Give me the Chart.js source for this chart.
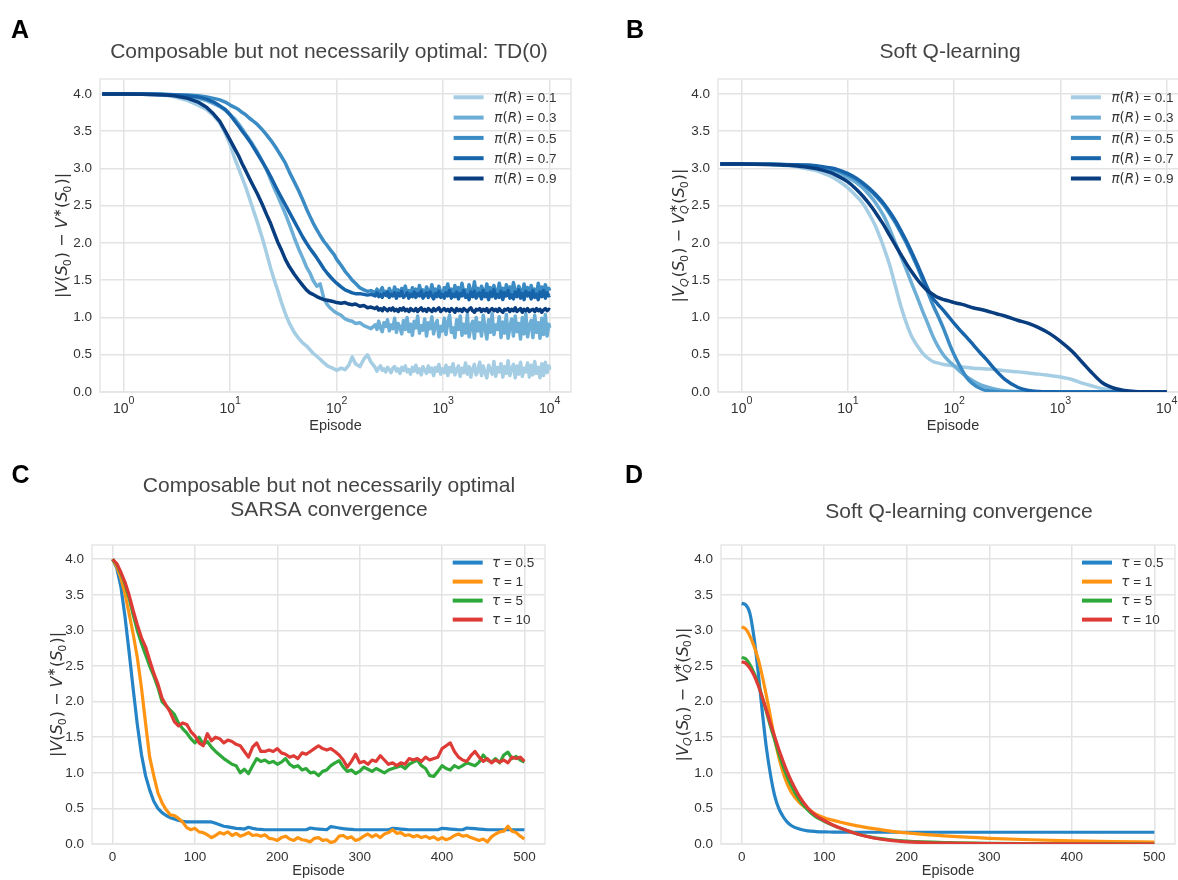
<!DOCTYPE html>
<html>
<head>
<meta charset="utf-8">
<script src="https://cdn.jsdelivr.net/npm/chart.js@4.4.1/dist/chart.umd.min.js"></script>
<style>
  html, body { margin: 0; padding: 0; background: #fff; }
  body { width: 1178px; height: 880px; overflow: hidden; position: relative; }
  canvas { position: absolute; }
</style>
</head>
<body>
<canvas id="chartA" width="590" height="440" style="left:0;top:0"></canvas>
<canvas id="chartB" width="620" height="440" style="left:590px;top:0"></canvas>
<canvas id="chartC" width="590" height="440" style="left:0;top:440px"></canvas>
<canvas id="chartD" width="590" height="440" style="left:590px;top:440px"></canvas>
<script>
// ---------- data ----------
const yTicks = [0, 0.5, 1, 1.5, 2, 2.5, 3, 3.5, 4];
const xTicksLog = [1, 10, 100, 1000, 10000];
const xTicksLin = [0, 100, 200, 300, 400, 500];

const piLabels = ['0.1', '0.3', '0.5', '0.7', '0.9'];
const tauLabels = ['0.5', '1', '5', '10'];

// A: TD(0), log episodes
const epA = [0.63, 1, 1.5, 2, 2.5, 3, 4, 5, 6, 7, 8, 9, 10, 11, 12, 13, 14, 15, 16, 18,
  20, 22, 24, 26, 28, 30, 33, 36, 40, 44, 48, 52, 56, 60, 65, 70, 76, 82, 88, 95,
  100, 110, 120, 130, 140, 150, 165, 180, 195, 210,
  230, 239, 248, 258, 268, 278, 289, 300, 312, 324, 337, 350, 364, 378, 393, 408, 424, 441, 458, 476,
  494, 514, 534, 554, 576, 599, 622, 646, 671, 698, 725, 753, 783, 813, 845, 878, 912, 948, 985, 1023,
  1063, 1105, 1148, 1193, 1240, 1288, 1338, 1391, 1445, 1501, 1560, 1621, 1685, 1750, 1819, 1890, 1964, 2040, 2120, 2203,
  2289, 2379, 2472, 2568, 2669, 2773, 2881, 2994, 3111, 3233, 3359, 3490, 3627, 3768, 3916, 4069, 4228, 4393, 4565, 4743,
  4929, 5121, 5322, 5530, 5746, 5970, 6204, 6446, 6698, 6960, 7232, 7515, 7809, 8114, 8431, 8761, 9103, 9459, 9829, 10000];

const tdR01 = [4.00, 4.00, 3.995, 3.99, 3.98, 3.96, 3.91, 3.85, 3.79, 3.71, 3.61, 3.47, 3.32, 3.14, 3.00, 2.87, 2.75, 2.62, 2.50, 2.28,
  2.07, 1.86, 1.66, 1.50, 1.36, 1.22, 1.05, 0.92, 0.80, 0.72, 0.66, 0.62, 0.57, 0.52, 0.48, 0.44, 0.39, 0.35, 0.33, 0.31,
  0.29, 0.32, 0.30, 0.36, 0.47, 0.38, 0.34, 0.44, 0.50, 0.40,
  0.33, 0.28, 0.32, 0.35, 0.29, 0.31, 0.27, 0.33, 0.30, 0.26, 0.32, 0.34, 0.28, 0.31, 0.25, 0.33, 0.29, 0.35, 0.27, 0.30,
  0.24, 0.33, 0.28, 0.36, 0.26, 0.31, 0.23, 0.34, 0.29, 0.25, 0.35, 0.27, 0.32, 0.22, 0.33, 0.28, 0.37, 0.24, 0.31, 0.26,
  0.36, 0.22, 0.33, 0.27, 0.38, 0.23, 0.30, 0.35, 0.21, 0.32, 0.26, 0.39, 0.24, 0.34, 0.20, 0.31, 0.37, 0.23, 0.28, 0.40,
  0.22, 0.35, 0.26, 0.19, 0.36, 0.30, 0.24, 0.41, 0.21, 0.33, 0.27, 0.38, 0.20, 0.34, 0.25, 0.42, 0.22, 0.31, 0.37, 0.19,
  0.35, 0.24, 0.40, 0.21, 0.32, 0.27, 0.39, 0.20, 0.36, 0.23, 0.41, 0.25, 0.33, 0.19, 0.38, 0.22, 0.40, 0.26, 0.35, 0.30];
const tdR03 = [4.00, 4.00, 4.00, 3.995, 3.99, 3.985, 3.97, 3.94, 3.91, 3.87, 3.83, 3.78, 3.72, 3.67, 3.60, 3.53, 3.46, 3.40, 3.34, 3.22,
  3.10, 2.98, 2.85, 2.73, 2.63, 2.53, 2.39, 2.25, 2.07, 1.92, 1.80, 1.68, 1.60, 1.50, 1.42, 1.45, 1.25, 1.17, 1.12, 1.08,
  1.06, 1.03, 0.98, 0.96, 0.95, 0.92, 0.93, 0.89, 0.87, 0.85,
  0.90, 0.84, 0.95, 0.86, 0.81, 0.93, 0.88, 0.97, 0.82, 0.90, 0.85, 0.99, 0.80, 0.92, 0.87, 0.78, 0.96, 0.84, 1.00, 0.81,
  0.91, 0.76, 0.95, 0.86, 1.02, 0.79, 0.89, 0.83, 0.98, 0.75, 0.93, 0.85, 1.01, 0.78, 0.90, 0.96, 0.74, 0.88, 0.82, 0.99,
  0.77, 0.94, 1.03, 0.80, 0.86, 0.73, 0.97, 0.84, 1.02, 0.76, 0.91, 0.79, 1.04, 0.74, 0.88, 0.95, 0.72, 1.00, 0.82, 0.93,
  0.75, 1.03, 0.86, 0.71, 0.97, 0.80, 1.05, 0.77, 0.90, 0.84, 1.01, 0.73, 0.94, 0.79, 1.04, 0.72, 0.87, 0.98, 0.75, 1.02,
  0.81, 0.92, 0.71, 1.00, 0.78, 1.05, 0.74, 0.89, 0.96, 0.73, 1.03, 0.80, 0.93, 0.72, 0.99, 0.77, 1.04, 0.75, 0.91, 0.86];
const tdR05 = [4.00, 4.00, 4.00, 4.00, 3.995, 3.99, 3.985, 3.975, 3.96, 3.94, 3.92, 3.89, 3.85, 3.82, 3.79, 3.75, 3.72, 3.68, 3.65, 3.59,
  3.52, 3.45, 3.38, 3.31, 3.24, 3.17, 3.07, 2.95, 2.82, 2.70, 2.58, 2.46, 2.36, 2.27, 2.18, 2.10, 2.02, 1.96, 1.90, 1.84,
  1.78, 1.70, 1.62, 1.56, 1.50, 1.46, 1.40, 1.37, 1.35, 1.36,
  1.33, 1.38, 1.31, 1.36, 1.40, 1.32, 1.35, 1.29, 1.39, 1.34, 1.31, 1.41, 1.33, 1.37, 1.30, 1.39, 1.35, 1.42, 1.31, 1.36,
  1.29, 1.40, 1.34, 1.38, 1.30, 1.43, 1.33, 1.37, 1.29, 1.41, 1.35, 1.31, 1.44, 1.33, 1.38, 1.30, 1.42, 1.34, 1.29, 1.40,
  1.36, 1.45, 1.31, 1.38, 1.29, 1.43, 1.34, 1.40, 1.30, 1.46, 1.33, 1.37, 1.29, 1.44, 1.35, 1.31, 1.48, 1.33, 1.39, 1.29,
  1.42, 1.36, 1.30, 1.45, 1.33, 1.40, 1.28, 1.43, 1.35, 1.31, 1.46, 1.34, 1.39, 1.29, 1.44, 1.32, 1.41, 1.30, 1.47, 1.35,
  1.31, 1.42, 1.36, 1.29, 1.45, 1.33, 1.40, 1.30, 1.43, 1.34, 1.38, 1.29, 1.46, 1.33, 1.41, 1.31, 1.44, 1.35, 1.39, 1.36];
const tdR07 = [4.00, 4.00, 4.00, 3.995, 3.99, 3.985, 3.975, 3.96, 3.93, 3.89, 3.84, 3.79, 3.72, 3.64, 3.57, 3.50, 3.44, 3.38, 3.32, 3.20,
  3.09, 2.99, 2.89, 2.79, 2.70, 2.62, 2.51, 2.41, 2.29, 2.18, 2.08, 2.00, 1.93, 1.87, 1.80, 1.73, 1.65, 1.59, 1.54, 1.49,
  1.46, 1.41, 1.37, 1.35, 1.33, 1.32, 1.32, 1.31, 1.30, 1.31,
  1.29, 1.33, 1.28, 1.31, 1.27, 1.32, 1.30, 1.34, 1.27, 1.31, 1.29, 1.33, 1.26, 1.32, 1.29, 1.35, 1.27, 1.30, 1.33, 1.26,
  1.31, 1.28, 1.34, 1.27, 1.32, 1.29, 1.35, 1.26, 1.30, 1.33, 1.27, 1.34, 1.29, 1.25, 1.32, 1.28, 1.35, 1.27, 1.31, 1.26,
  1.33, 1.29, 1.36, 1.26, 1.31, 1.28, 1.34, 1.25, 1.32, 1.29, 1.36, 1.27, 1.30, 1.24, 1.34, 1.28, 1.35, 1.26, 1.31, 1.33,
  1.25, 1.36, 1.28, 1.32, 1.24, 1.34, 1.29, 1.37, 1.26, 1.31, 1.27, 1.35, 1.24, 1.33, 1.29, 1.36, 1.26, 1.30, 1.25, 1.34,
  1.28, 1.37, 1.26, 1.32, 1.24, 1.35, 1.29, 1.33, 1.25, 1.36, 1.27, 1.31, 1.24, 1.34, 1.28, 1.36, 1.26, 1.33, 1.29, 1.30];
const tdR09 = [4.00, 4.00, 3.995, 3.99, 3.985, 3.975, 3.94, 3.89, 3.82, 3.73, 3.63, 3.50, 3.38, 3.27, 3.17, 3.06, 2.97, 2.88, 2.80, 2.66,
  2.52, 2.38, 2.26, 2.13, 2.01, 1.92, 1.78, 1.68, 1.58, 1.50, 1.43, 1.37, 1.33, 1.31, 1.28, 1.26, 1.24, 1.23, 1.22, 1.21,
  1.20, 1.19, 1.20, 1.18, 1.17, 1.18, 1.15, 1.16, 1.13, 1.14,
  1.12, 1.14, 1.10, 1.12, 1.09, 1.13, 1.11, 1.09, 1.12, 1.10, 1.13, 1.09, 1.11, 1.08, 1.12, 1.10, 1.13, 1.09, 1.11, 1.08,
  1.12, 1.10, 1.09, 1.12, 1.08, 1.11, 1.13, 1.09, 1.11, 1.08, 1.12, 1.10, 1.08, 1.12, 1.09, 1.11, 1.13, 1.08, 1.10, 1.12,
  1.09, 1.11, 1.08, 1.12, 1.10, 1.07, 1.12, 1.09, 1.11, 1.08, 1.12, 1.10, 1.08, 1.11, 1.13, 1.09, 1.07, 1.11, 1.10, 1.12,
  1.08, 1.11, 1.09, 1.12, 1.07, 1.10, 1.12, 1.09, 1.11, 1.08, 1.12, 1.09, 1.07, 1.11, 1.10, 1.12, 1.08, 1.11, 1.09, 1.13,
  1.08, 1.10, 1.12, 1.07, 1.11, 1.09, 1.12, 1.08, 1.10, 1.11, 1.08, 1.12, 1.09, 1.11, 1.07, 1.10, 1.12, 1.09, 1.11, 1.10];

// B: soft Q-learning, log episodes
const epB = [0.63, 1, 2, 3, 4, 5, 6, 7, 8, 10, 12, 14, 16, 18, 20, 22, 25, 28, 32, 36,
  40, 45, 50, 56, 63, 70, 80, 90, 100, 115, 130, 150, 175, 200, 250, 300, 400, 500, 630, 800,
  1000, 1300, 1600, 2000, 2500, 3200, 4000, 5000, 6300, 8000, 10000];
const sqR01 = [3.06, 3.06, 3.05, 3.03, 3.00, 2.97, 2.93, 2.89, 2.84, 2.74, 2.63, 2.52, 2.38, 2.24, 2.08, 1.92, 1.68, 1.42, 1.12, 0.90,
  0.74, 0.62, 0.53, 0.46, 0.41, 0.39, 0.37, 0.36, 0.35, 0.34, 0.33, 0.32, 0.315, 0.31, 0.30, 0.285, 0.27, 0.255, 0.24, 0.22,
  0.20, 0.165, 0.12, 0.08, 0.045, 0.02, 0.008, 0.003, 0.001, 0, 0];
const sqR03 = [3.06, 3.06, 3.055, 3.05, 3.04, 3.03, 3.01, 2.98, 2.95, 2.88, 2.81, 2.73, 2.64, 2.55, 2.45, 2.35, 2.17, 2.00, 1.80, 1.62,
  1.45, 1.27, 1.10, 0.93, 0.75, 0.62, 0.49, 0.41, 0.35, 0.27, 0.21, 0.15, 0.10, 0.07, 0.035, 0.018, 0.006, 0.002, 0, 0,
  0, 0, 0, 0, 0, 0, 0, 0, 0, 0, 0];
const sqR05 = [3.06, 3.06, 3.055, 3.05, 3.04, 3.03, 3.01, 2.99, 2.97, 2.91, 2.85, 2.78, 2.71, 2.64, 2.57, 2.50, 2.38, 2.27, 2.12, 1.98,
  1.84, 1.68, 1.52, 1.35, 1.17, 1.03, 0.84, 0.65, 0.50, 0.33, 0.20, 0.11, 0.05, 0.02, 0.005, 0, 0, 0, 0, 0,
  0, 0, 0, 0, 0, 0, 0, 0, 0, 0, 0];
const sqR07 = [3.06, 3.06, 3.055, 3.05, 3.045, 3.035, 3.02, 3.005, 2.985, 2.93, 2.87, 2.80, 2.73, 2.66, 2.59, 2.52, 2.41, 2.30, 2.15, 2.01,
  1.87, 1.71, 1.56, 1.40, 1.26, 1.18, 1.09, 1.00, 0.92, 0.82, 0.74, 0.64, 0.53, 0.44, 0.28, 0.17, 0.06, 0.02, 0.006, 0.002,
  0, 0, 0, 0, 0, 0, 0, 0, 0, 0, 0];
const sqR09 = [3.06, 3.06, 3.05, 3.04, 3.02, 3.00, 2.97, 2.94, 2.90, 2.82, 2.72, 2.62, 2.52, 2.42, 2.32, 2.23, 2.09, 1.97, 1.83, 1.71,
  1.61, 1.51, 1.43, 1.36, 1.31, 1.27, 1.24, 1.22, 1.20, 1.18, 1.16, 1.13, 1.11, 1.09, 1.05, 1.02, 0.96, 0.92, 0.86, 0.78,
  0.68, 0.54, 0.40, 0.25, 0.12, 0.05, 0.02, 0.006, 0.002, 0, 0];

// C: SARSA convergence
const epC = [0, 5, 10, 15, 20, 25, 30, 35, 40, 45, 50, 55, 60, 65, 70, 75, 80, 85, 90, 95,
  100, 105, 110, 115, 120, 125, 130, 135, 140, 145, 150, 155, 160, 165, 170, 175, 180, 185, 190, 195,
  200, 205, 210, 215, 220, 225, 230, 235, 240, 245, 250, 255, 260, 265, 270, 275, 280, 285, 290, 295,
  300, 305, 310, 315, 320, 325, 330, 335, 340, 345, 350, 355, 360, 365, 370, 375, 380, 385, 390, 395,
  400, 405, 410, 415, 420, 425, 430, 435, 440, 445, 450, 455, 460, 465, 470, 475, 480, 485, 490, 495, 500];
const sarsaT05 = [4.00, 3.88, 3.62, 3.20, 2.70, 2.18, 1.68, 1.26, 0.96, 0.76, 0.60, 0.50, 0.44, 0.40, 0.37, 0.35, 0.33, 0.32, 0.31, 0.31,
  0.31, 0.31, 0.31, 0.31, 0.31, 0.29, 0.27, 0.25, 0.24, 0.23, 0.22, 0.215, 0.21, 0.235, 0.22, 0.21, 0.205, 0.20, 0.20, 0.20,
  0.20, 0.20, 0.20, 0.20, 0.20, 0.20, 0.20, 0.20, 0.225, 0.215, 0.21, 0.205, 0.20, 0.245, 0.235, 0.225, 0.215, 0.21, 0.205, 0.20,
  0.20, 0.20, 0.20, 0.20, 0.20, 0.20, 0.20, 0.20, 0.22, 0.215, 0.21, 0.205, 0.20, 0.20, 0.20, 0.20, 0.20, 0.20, 0.20, 0.20,
  0.22, 0.215, 0.21, 0.205, 0.20, 0.20, 0.225, 0.22, 0.215, 0.21, 0.205, 0.20, 0.20, 0.20, 0.20, 0.20, 0.20, 0.20, 0.20, 0.20, 0.20];
const sarsaT1 = [4.00, 3.90, 3.74, 3.52, 3.24, 2.95, 2.62, 2.20, 1.70, 1.22, 0.96, 0.72, 0.58, 0.48, 0.41, 0.40, 0.36, 0.31, 0.23, 0.20,
  0.22, 0.17, 0.16, 0.13, 0.09, 0.12, 0.16, 0.14, 0.17, 0.12, 0.15, 0.11, 0.13, 0.16, 0.12, 0.13, 0.11, 0.13, 0.08, 0.07,
  0.05, 0.09, 0.11, 0.07, 0.05, 0.09, 0.06, 0.05, 0.03, 0.08, 0.09, 0.05, 0.06, 0.02, 0.04, 0.11, 0.12, 0.08, 0.10, 0.05,
  0.07, 0.11, 0.14, 0.10, 0.13, 0.09, 0.14, 0.16, 0.20, 0.15, 0.16, 0.12, 0.13, 0.10, 0.12, 0.09, 0.11, 0.08, 0.10, 0.06,
  0.09, 0.06, 0.08, 0.12, 0.14, 0.11, 0.12, 0.09, 0.07, 0.05, 0.07, 0.03, 0.10, 0.14, 0.17, 0.18, 0.25, 0.18, 0.16, 0.11, 0.07];
const sarsaT5 = [4.00, 3.93, 3.80, 3.66, 3.46, 3.22, 3.00, 2.82, 2.66, 2.50, 2.36, 2.20, 2.00, 1.94, 1.88, 1.82, 1.70, 1.62, 1.56, 1.48,
  1.42, 1.50, 1.40, 1.44, 1.36, 1.30, 1.25, 1.20, 1.16, 1.12, 1.10, 1.00, 1.05, 0.99, 1.10, 1.20, 1.16, 1.18, 1.14, 1.16,
  1.12, 1.15, 1.20, 1.12, 1.08, 1.10, 1.04, 1.06, 1.00, 1.01, 0.96, 1.02, 1.04, 1.10, 1.14, 1.17, 1.08, 1.02, 1.04, 0.99,
  1.02, 1.08, 1.05, 1.02, 1.06, 1.03, 1.00, 1.04, 1.06, 1.08, 1.10, 1.06, 1.12, 1.15, 1.18, 1.10, 1.06, 0.96, 0.95, 1.02,
  1.10, 1.06, 1.04, 1.10, 1.07, 1.10, 1.14, 1.12, 1.10, 1.15, 1.25, 1.18, 1.15, 1.20, 1.14, 1.25, 1.29, 1.20, 1.23, 1.18, 1.15];
const sarsaT10 = [4.00, 3.94, 3.82, 3.68, 3.50, 3.28, 3.08, 2.90, 2.77, 2.58, 2.40, 2.25, 2.05, 1.95, 1.85, 1.72, 1.66, 1.70, 1.68, 1.58,
  1.52, 1.42, 1.38, 1.55, 1.45, 1.50, 1.48, 1.42, 1.46, 1.44, 1.40, 1.38, 1.30, 1.22, 1.36, 1.42, 1.30, 1.30, 1.32, 1.30,
  1.34, 1.28, 1.26, 1.22, 1.24, 1.20, 1.28, 1.26, 1.30, 1.34, 1.38, 1.34, 1.32, 1.34, 1.30, 1.25, 1.18, 1.08, 1.16, 1.26,
  1.14, 1.16, 1.12, 1.18, 1.16, 1.24, 1.18, 1.12, 1.14, 1.10, 1.14, 1.12, 1.20, 1.18, 1.20, 1.16, 1.22, 1.18, 1.20, 1.22,
  1.34, 1.38, 1.42, 1.30, 1.22, 1.18, 1.16, 1.24, 1.30, 1.22, 1.16, 1.20, 1.14, 1.18, 1.15, 1.18, 1.14, 1.22, 1.20, 1.22, 1.16];

// D: soft Q-learning convergence
const epD = [0, 5, 10, 15, 20, 25, 30, 35, 40, 45, 50, 55, 60, 70, 80, 90, 100, 110, 120, 140,
  160, 180, 200, 250, 300, 350, 400, 450, 500];
const sqT05 = [3.38, 3.36, 3.24, 2.90, 2.42, 1.86, 1.35, 0.97, 0.68, 0.50, 0.39, 0.31, 0.26, 0.21, 0.185, 0.175, 0.17, 0.168, 0.166, 0.165,
  0.165, 0.165, 0.165, 0.165, 0.165, 0.165, 0.165, 0.165, 0.165];
const sqT1 = [3.05, 3.02, 2.92, 2.78, 2.60, 2.36, 2.08, 1.78, 1.48, 1.22, 1.01, 0.85, 0.73, 0.58, 0.49, 0.42, 0.37, 0.335, 0.305, 0.255,
  0.215, 0.18, 0.155, 0.11, 0.08, 0.06, 0.045, 0.035, 0.028];
const sqT5 = [2.62, 2.60, 2.52, 2.40, 2.25, 2.06, 1.86, 1.65, 1.46, 1.27, 1.10, 0.95, 0.82, 0.62, 0.48, 0.38, 0.32, 0.265, 0.22, 0.14,
  0.09, 0.06, 0.04, 0.018, 0.008, 0.004, 0.002, 0.001, 0];
const sqT10 = [2.56, 2.54, 2.47, 2.37, 2.23, 2.06, 1.88, 1.69, 1.51, 1.33, 1.17, 1.02, 0.89, 0.67, 0.51, 0.40, 0.33, 0.27, 0.22, 0.14,
  0.085, 0.05, 0.03, 0.012, 0.005, 0.002, 0.001, 0, 0];

const blues = ['#a5cde3', '#6caed6', '#3b8bc5', '#1764ab', '#083d7f'];
const tabColors = ['#2484c6', '#ff9412', '#2fa83a', '#de3b36'];

// ---------- text helpers ----------
const textColor = '#333333';
const sansFam = '"Liberation Sans", Arial, sans-serif';

function fontFor(math, italic, size) {
  return (italic ? 'italic ' : '') + size + 'px ' + (math ? '"DejaVu Sans"' : sansFam);
}

// segments: {t, m (math font), it (italic), sup, sub, subIt, rise, ss (script scale)}
function richWidth(ctx, segs, size) {
  let w = 0;
  segs.forEach(s => {
    const ss = size * (s.ss || 0.7);
    ctx.font = fontFor(s.m, s.it, size);
    let bw = ctx.measureText(s.t).width, ew = 0;
    if (s.sup) { ctx.font = fontFor(s.m, false, ss); ew = Math.max(ew, ctx.measureText(s.sup).width); }
    if (s.sub) { ctx.font = fontFor(s.m, s.subIt, ss); ew = Math.max(ew, ctx.measureText(s.sub).width); }
    w += bw + ew;
  });
  return w;
}

function drawRich(ctx, segs, x, y, size, center) {
  let cx = center ? x - richWidth(ctx, segs, size) / 2 : x;
  segs.forEach(s => {
    const ss = size * (s.ss || 0.7);
    ctx.font = fontFor(s.m, s.it, size);
    ctx.fillText(s.t, cx, y);
    let bw = ctx.measureText(s.t).width, ew = 0;
    if (s.sup) {
      ctx.font = fontFor(s.m, false, ss);
      ctx.fillText(s.sup, cx + bw, y - size * (s.rise || 0.42));
      ew = Math.max(ew, ctx.measureText(s.sup).width);
    }
    if (s.sub) {
      ctx.font = fontFor(s.m, s.subIt, ss);
      ctx.fillText(s.sub, cx + bw - (s.it ? size * 0.06 : 0), y + size * 0.22);
      ew = Math.max(ew, ctx.measureText(s.sub).width);
    }
    cx += bw + ew;
  });
}

const yLabelV = [{t: '|', m: 1}, {t: 'V', m: 1, it: 1}, {t: '(', m: 1}, {t: 'S', m: 1, it: 1, sub: '0'}, {t: ')', m: 1},
  {t: ' \u2212 ', m: 1}, {t: 'V', m: 1, it: 1, sup: '\u2217'}, {t: '(', m: 1}, {t: 'S', m: 1, it: 1, sub: '0'}, {t: ')|', m: 1}];
const yLabelVQ = [{t: '|', m: 1}, {t: 'V', m: 1, it: 1, sub: 'Q', subIt: 1}, {t: '(', m: 1}, {t: 'S', m: 1, it: 1, sub: '0'}, {t: ')', m: 1},
  {t: ' \u2212 ', m: 1}, {t: 'V', m: 1, it: 1, sup: '\u2217', sub: 'Q', subIt: 1}, {t: '(', m: 1}, {t: 'S', m: 1, it: 1, sub: '0'}, {t: ')|', m: 1}];

const piLegend = piLabels.map(l => [{t: '\u03c0', m: 1, it: 1}, {t: '(', m: 1}, {t: 'R', m: 1, it: 1}, {t: ')', m: 1}, {t: ' = ' + l}]);
const tauLegend = tauLabels.map(l => [{t: '\u03c4', m: 1, it: 1}, {t: ' = ' + l}]);

// letters, titles, y labels and legends per canvas (local pixel coords)
const textCfg = {
  chartA: { letter: 'A', lx: 11, ly: 38, title: [['Composable but not necessarily optimal: TD(0)', 329, 58]],
    yLabel: yLabelV, yx: 61.7, logTicks: true,
    legend: { items: piLegend, colors: blues, lineX: 453.6, textX: 494.3, y0: 97.3, dy: 20.3 } },
  chartB: { letter: 'B', lx: 36, ly: 38, title: [['Soft Q-learning', 360, 58]],
    yLabel: yLabelVQ, yx: 88.6, logTicks: true,
    legend: { items: piLegend, colors: blues, lineX: 480.9, textX: 521.4, y0: 97.3, dy: 20.3 } },
  chartC: { letter: 'C', lx: 11.4, ly: 42.5, title: [['Composable but not necessarily optimal', 329, 51.7], ['SARSA convergence', 329, 76.4]],
    yLabel: yLabelV, yx: 56.6, logTicks: false,
    legend: { items: tauLegend, colors: tabColors, lineX: 452.7, textX: 492, y0: 122.6, dy: 19 } },
  chartD: { letter: 'D', lx: 35, ly: 42.5, title: [['Soft Q-learning convergence', 369, 78]],
    yLabel: yLabelVQ, yx: 91.9, logTicks: false,
    legend: { items: tauLegend, colors: tabColors, lineX: 492, textX: 531.3, y0: 122.6, dy: 19 } }
};

const figureText = {
  id: 'figureText',
  beforeDatasetsDraw(chart) {
    const a = chart.chartArea, ctx = chart.ctx;
    ctx.save();
    ctx.strokeStyle = '#e6e6e6';
    ctx.lineWidth = 1.5;
    ctx.strokeRect(a.left, a.top, a.right - a.left, a.bottom - a.top);
    ctx.restore();
  },
  afterDraw(chart) {
    const c = textCfg[chart.canvas.id];
    if (!c) return;
    const ctx = chart.ctx, a = chart.chartArea;
    ctx.save();
    ctx.textBaseline = 'alphabetic';
    ctx.textAlign = 'left';

    ctx.fillStyle = '#000';
    ctx.font = 'bold 25px ' + sansFam;
    ctx.fillText(c.letter, c.lx, c.ly);

    ctx.fillStyle = '#444';
    ctx.font = '21px ' + sansFam;
    ctx.textAlign = 'center';
    c.title.forEach(l => ctx.fillText(l[0], l[1], l[2]));
    ctx.textAlign = 'left';

    ctx.fillStyle = textColor;
    ctx.save();
    ctx.translate(c.yx, (a.top + a.bottom) / 2);
    ctx.rotate(-Math.PI / 2);
    drawRich(ctx, c.yLabel, 0, 16 * 0.35, 16, true);
    ctx.restore();

    // log axis labels as 10 with a raised exponent
    if (c.logTicks) {
      const sx = chart.scales.x;
      xTicksLog.forEach(v => {
        const e = String(Math.round(Math.log10(v)));
        drawRich(ctx, [{t: '10', sup: e, rise: 0.69, ss: 0.76}], sx.getPixelForValue(v), a.bottom + 21.3, 14, true);
      });
    }

    const lg = c.legend;
    lg.items.forEach((segs, i) => {
      const y = lg.y0 + i * lg.dy;
      ctx.strokeStyle = lg.colors[i];
      ctx.lineWidth = 4;
      ctx.beginPath();
      ctx.moveTo(lg.lineX, y);
      ctx.lineTo(lg.lineX + 30, y);
      ctx.stroke();
      ctx.fillStyle = textColor;
      drawRich(ctx, segs, lg.textX, y + 4.7, 13.5, false);
    });
    ctx.restore();
  }
};
Chart.register(figureText);

// ---------- charts ----------
function crearGrafico(id, cfg) {
  const log = cfg.xType === 'logarithmic';
  const datasets = cfg.series.map((vals, i) => ({
    data: cfg.x.map((e, j) => ({ x: e, y: vals[j] })),
    borderColor: cfg.colors[i],
    borderWidth: cfg.lineWidth,
    pointRadius: 0,
    tension: 0,
    cubicInterpolationMode: cfg.smooth ? 'monotone' : 'default',
    borderJoinStyle: 'round',
    clip: 0,
    order: -i
  }));
  const gridStyle = { color: '#e3e3e3', lineWidth: 1.5, drawTicks: false };
  return new Chart(document.getElementById(id), {
    type: 'line',
    data: { datasets: datasets },
    options: {
      responsive: false,
      animation: false,
      devicePixelRatio: 1,
      layout: { padding: cfg.pad },
      plugins: { legend: { display: false }, tooltip: { enabled: false } },
      scales: {
        x: {
          type: cfg.xType,
          min: cfg.xMin,
          max: cfg.xMax,
          grid: gridStyle,
          border: { display: false },
          ticks: { display: !log, padding: 5, color: textColor, font: { family: sansFam, size: 13.5 },
            callback: v => String(v) },
          title: { display: true, text: 'Episode', color: textColor, padding: 0, font: { family: sansFam, size: 14.5 } },
          afterBuildTicks: s => { s.ticks = (log ? xTicksLog : xTicksLin).map(v => ({ value: v })); },
          afterFit: s => { s.height = cfg.xH; }
        },
        y: {
          min: 0,
          max: 4.2,
          grid: gridStyle,
          border: { display: false },
          ticks: { padding: 8, color: textColor, font: { family: sansFam, size: 13.5 }, callback: v => v.toFixed(1) },
          afterBuildTicks: s => { s.ticks = yTicks.map(v => ({ value: v })); },
          afterFit: s => { s.width = cfg.yW; }
        }
      }
    }
  });
}

crearGrafico('chartA', { x: epA, series: [tdR01, tdR03, tdR05, tdR07, tdR09], colors: blues, lineWidth: 3.5,
  xType: 'logarithmic', xMin: 0.631, xMax: 15849, smooth: false,
  pad: { left: 0, right: 19, top: 79, bottom: 5.3 }, yW: 100, xH: 42.7 });

crearGrafico('chartB', { x: epB, series: [sqR01, sqR03, sqR05, sqR07, sqR09], colors: blues, lineWidth: 3.5,
  xType: 'logarithmic', xMin: 0.631, xMax: 15849, smooth: true,
  pad: { left: 0, right: 22, top: 79, bottom: 5.3 }, yW: 128, xH: 42.7 });

crearGrafico('chartC', { x: epC, series: [sarsaT05, sarsaT1, sarsaT5, sarsaT10], colors: tabColors, lineWidth: 3.2,
  xType: 'linear', xMin: -25, xMax: 525, smooth: false,
  pad: { left: 0, right: 45, top: 105, bottom: 0 }, yW: 92, xH: 36 });

crearGrafico('chartD', { x: epD, series: [sqT05, sqT1, sqT5, sqT10], colors: tabColors, lineWidth: 3.2,
  xType: 'linear', xMin: -25, xMax: 525, smooth: true,
  pad: { left: 0, right: 5, top: 105, bottom: 0 }, yW: 131, xH: 36 });
</script>
</body>
</html>
